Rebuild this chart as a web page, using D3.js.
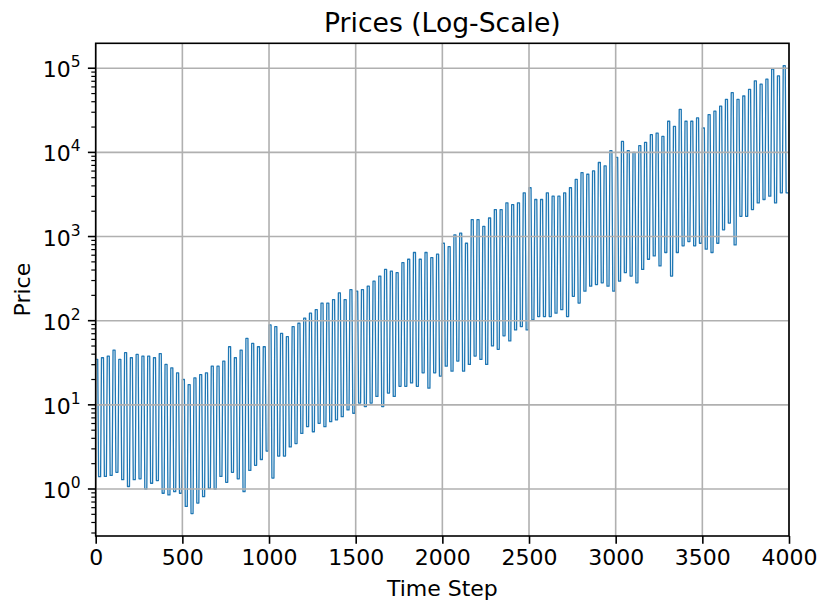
<!DOCTYPE html>
<html>
<head>
<meta charset="utf-8">
<script src="https://cdn.jsdelivr.net/npm/d3@7"></script>
<style>
  body { margin: 0; background: #fff; }
  svg text { font-family: "DejaVu Sans", sans-serif; fill: #000; }
</style>
</head>
<body>
<svg id="chart" width="831" height="614"></svg>
<script>
// one value per oscillation cycle (cycle = high phase then low phase)
const cycleHighs = [
  34.7, 36.3, 38.0, 44.7, 34.7, 41.7, 36.3, 39.8, 38.0, 38.0, 36.3, 40.7, 30.2, 27.5, 24.0, 20.0, 17.4, 20.9, 22.9, 24.0,
  28.8, 28.8, 33.1, 49.0, 36.3, 44.7, 61.7, 53.7, 49.0, 49.0, 89.1, 85.1, 70.8, 64.6, 85.1, 93.3, 107, 123, 135, 162,
  162, 178, 214, 178, 234, 224, 234, 257, 295, 339, 407, 389, 372, 490, 537, 646, 537, 646, 562, 617,
  832, 759, 1047, 1096, 832, 1585, 1585, 1318, 1660, 2089, 2089, 2512, 2399, 2512, 3311, 3802, 2754, 2754, 3311, 3020,
  3020, 3311, 3802, 4786, 5754, 5495, 6026, 7586, 6918, 10470, 8710, 13490, 10470, 10000, 12020, 13180, 16220, 16980, 15490, 23440,
  20420, 32360, 23440, 23440, 25700, 19500, 28180, 30900, 35480, 42660, 51290, 42660, 46770, 56230, 70790, 64570, 74130, 97720, 81280, 107200
];
const cycleLows = [
  1.40, 1.41, 1.45, 1.58, 1.29, 1.07, 1.29, 1.32, 1.00, 1.17, 1.26, 0.89, 0.85, 0.93, 0.89, 0.62, 0.51, 0.68, 0.81, 1.02,
  1.00, 1.41, 1.20, 1.58, 1.32, 0.93, 1.66, 1.91, 2.24, 2.82, 1.35, 2.46, 2.46, 3.16, 3.47, 4.57, 5.50, 4.79, 6.03, 5.50,
  6.31, 6.61, 7.24, 8.71, 7.94, 10.5, 9.55, 10.5, 12.6, 9.55, 13.8, 12.6, 16.6, 16.6, 18.2, 16.6, 24.0, 15.8, 24.0, 21.9,
  28.8, 25.1, 33.1, 25.1, 30.2, 38.0, 34.7, 30.2, 50.1, 45.7, 66.1, 57.5, 77.6, 85.1, 77.6, 102, 112, 112, 112, 123,
  135, 112, 195, 162, 224, 257, 269, 282, 257, 224, 295, 372, 339, 282, 407, 537, 589, 447, 646, 339,
  646, 776, 871, 776, 832, 708, 646, 832, 1202, 1445, 794, 1738, 1738, 2089, 2512, 2754, 3020, 2512, 3311, 3311
];
const totalSteps = 4000;
const xTicks = [0, 500, 1000, 1500, 2000, 2500, 3000, 3500, 4000];
const yTickExponents = [0, 1, 2, 3, 4, 5];

const width = 831;
const height = 614;
const margin = { top: 43.3, right: 42, bottom: 78, left: 95.7 };
const plotW = width - margin.left - margin.right;
const plotH = height - margin.top - margin.bottom;
const tickFont = 22;

// build the line points: high plateau, drop, low plateau, rise into next cycle
const cycleSteps = totalSteps / cycleHighs.length;
const series = [];
cycleHighs.forEach((hi, i) => {
  const start = i * cycleSteps;
  series.push([start, hi]);
  series.push([start + 0.35 * cycleSteps, hi]);
  series.push([start + 0.5 * cycleSteps, cycleLows[i]]);
  series.push([start + 0.85 * cycleSteps, cycleLows[i]]);
});
series.push([totalSteps, cycleLows[cycleLows.length - 1]]);

// log axis limits with 5% padding like matplotlib autoscale
const logMin = Math.log10(d3.min(cycleLows));
const logMax = Math.log10(d3.max(cycleHighs));
const pad = (logMax - logMin) * 0.05;

const x = d3.scaleLinear().domain([0, totalSteps]).range([0, plotW]);
const y = d3.scaleLog()
  .domain([Math.pow(10, logMin - pad), Math.pow(10, logMax + pad)])
  .range([plotH, 0]);

const svg = d3.select('#chart');
svg.append('rect').attr('width', width).attr('height', height).attr('fill', '#fff');

const g = svg.append('g').attr('transform', `translate(${margin.left},${margin.top})`);

g.append('clipPath').attr('id', 'plot-clip')
  .append('rect').attr('width', plotW).attr('height', plotH);

g.append('path')
  .datum(series)
  .attr('clip-path', 'url(#plot-clip)')
  .attr('fill', 'none')
  .attr('stroke', '#1f77b4')
  .attr('stroke-width', 1.3)
  .attr('stroke-linejoin', 'round')
  .attr('d', d3.line().x((d) => x(d[0])).y((d) => y(d[1])));

// grid
const grid = g.append('g').attr('stroke', '#b0b0b0').attr('stroke-width', 1.6);
grid.selectAll('line.vx')
  .data(xTicks)
  .join('line')
  .attr('x1', (d) => x(d)).attr('x2', (d) => x(d))
  .attr('y1', 0).attr('y2', plotH);
grid.selectAll('line.hy')
  .data(yTickExponents)
  .join('line')
  .attr('x1', 0).attr('x2', plotW)
  .attr('y1', (d) => y(Math.pow(10, d))).attr('y2', (d) => y(Math.pow(10, d)));

// x axis
const xAxis = g.append('g')
  .attr('transform', `translate(0,${plotH})`)
  .call(d3.axisBottom(x).tickValues(xTicks).tickSize(7.8).tickPadding(6).tickFormat(d3.format('d')));
xAxis.select('.domain').remove();
xAxis.selectAll('line').attr('stroke', '#000').attr('stroke-width', 1.6);
xAxis.selectAll('text').attr('font-size', tickFont).attr('font-family', '"DejaVu Sans", sans-serif');

// y axis: minor ticks
const minorTicks = [];
for (let e = -1; e <= 5; e++) {
  for (let k = 2; k <= 9; k++) {
    const v = k * Math.pow(10, e);
    if (v >= y.domain()[0] && v <= y.domain()[1]) minorTicks.push(v);
  }
}
g.append('g').selectAll('line')
  .data(minorTicks)
  .join('line')
  .attr('x1', -4.4).attr('x2', 0)
  .attr('y1', (d) => y(d)).attr('y2', (d) => y(d))
  .attr('stroke', '#000').attr('stroke-width', 1.2);

const yMajor = g.append('g');
yMajor.selectAll('line')
  .data(yTickExponents)
  .join('line')
  .attr('x1', -7.8).attr('x2', 0)
  .attr('y1', (d) => y(Math.pow(10, d))).attr('y2', (d) => y(Math.pow(10, d)))
  .attr('stroke', '#000').attr('stroke-width', 1.6);

const yLabels = yMajor.selectAll('text')
  .data(yTickExponents)
  .join('text')
  .attr('x', -15)
  .attr('y', (d) => y(Math.pow(10, d)) + 9)
  .attr('text-anchor', 'end')
  .attr('font-size', tickFont);
yLabels.append('tspan').text('10');
yLabels.append('tspan').attr('font-size', 15.5).attr('dy', -10).text((d) => d);

// spines
g.append('rect')
  .attr('width', plotW).attr('height', plotH)
  .attr('fill', 'none').attr('stroke', '#000').attr('stroke-width', 1.6);

// labels
svg.append('text')
  .attr('x', margin.left + plotW / 2).attr('y', 32)
  .attr('text-anchor', 'middle').attr('font-size', 26.6)
  .text('Prices (Log-Scale)');

svg.append('text')
  .attr('x', margin.left + plotW / 2).attr('y', 596)
  .attr('text-anchor', 'middle').attr('font-size', tickFont)
  .text('Time Step');

svg.append('text')
  .attr('transform', `translate(30,${margin.top + plotH / 2}) rotate(-90)`)
  .attr('text-anchor', 'middle').attr('font-size', tickFont)
  .text('Price');
</script>
</body>
</html>
